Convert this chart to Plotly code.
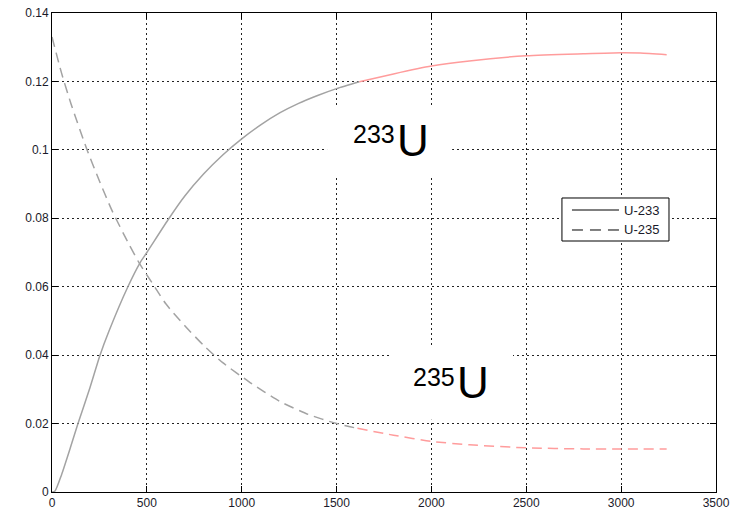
import plotly.graph_objects as go

# U-233 concentration (gray part then red part)
u233_x = [0, 16, 50, 100, 137, 200, 253, 300, 400, 464, 500, 611, 700, 800, 900, 1000,
          1100, 1200, 1300, 1400, 1500, 1620]
u233_y = [0.0, 0.0003, 0.005, 0.0135, 0.020, 0.0305, 0.040, 0.047, 0.060, 0.067, 0.070, 0.0795,
          0.0865, 0.0930, 0.0985, 0.1032, 0.1073, 0.1108, 0.1136, 0.1159, 0.1179, 0.1199]
u233_x_late = [1620, 1800, 2000, 2200, 2500, 2800, 3000, 3100, 3240]
u233_y_late = [0.1199, 0.1222, 0.1245, 0.1260, 0.1275, 0.1281, 0.1284, 0.1283, 0.1278]

# U-235 concentration
u235_x = [0, 50, 100, 186, 250, 316, 400, 464, 527, 600, 700, 800, 900, 1044, 1200, 1350,
          1500, 1610]
u235_y = [0.133, 0.1225, 0.1135, 0.0998, 0.0909, 0.0823, 0.0730, 0.0665, 0.0612, 0.0550,
          0.0486, 0.0428, 0.0378, 0.0320, 0.0265, 0.0227, 0.0200, 0.0186]
u235_x_late = [1610, 1800, 2000, 2200, 2500, 2800, 3000, 3240]
u235_y_late = [0.0186, 0.0166, 0.0148, 0.0138, 0.0129, 0.0126, 0.0126, 0.0126]

x_ticks = [0, 500, 1000, 1500, 2000, 2500, 3000, 3500]
y_ticks = [0, 0.02, 0.04, 0.06, 0.08, 0.1, 0.12, 0.14]
y_tick_text = ["0", "0.02", "0.04", "0.06", "0.08", "0.1", "0.12", "0.14"]
legend_names = ["U-233", "U-235"]

gray = "#a3a3a3"
pink = "#ff9c9c"
dash = "10px,6px"
font_txt = "Liberation Sans, Arial, sans-serif"

fig = go.Figure()
line_kw = dict(width=1.5, shape="spline", smoothing=0.6)
fig.add_trace(go.Scatter(x=u233_x, y=u233_y, mode="lines", line=dict(color=gray, **line_kw),
                         name=legend_names[0], showlegend=False, hoverinfo="skip"))
fig.add_trace(go.Scatter(x=u233_x_late, y=u233_y_late, mode="lines", line=dict(color=pink, **line_kw),
                         showlegend=False, hoverinfo="skip"))
fig.add_trace(go.Scatter(x=u235_x, y=u235_y, mode="lines", line=dict(color=gray, dash=dash, **line_kw),
                         name=legend_names[1], showlegend=False, hoverinfo="skip"))
fig.add_trace(go.Scatter(x=u235_x_late, y=u235_y_late, mode="lines", line=dict(color=pink, dash=dash, **line_kw),
                         showlegend=False, hoverinfo="skip"))

# white boxes behind labels (cover gridlines)
fig.add_shape(type="rect", x0=1450, x1=2109, y0=0.0924, y1=0.1126, layer="between",
              fillcolor="white", line=dict(width=0))
fig.add_shape(type="rect", x0=1782, x1=2430, y0=0.0211, y1=0.0424, layer="between",
              fillcolor="white", line=dict(width=0))

fig.add_annotation(x=1819, y=0.1047, text="233", showarrow=False, xanchor="right", yanchor="middle",
                   font=dict(family=font_txt, size=25, color="black"))
fig.add_annotation(x=1807, y=0.1028, text="U", showarrow=False, xanchor="left", yanchor="middle",
                   font=dict(family=font_txt, size=44, color="black"))
fig.add_annotation(x=2135, y=0.0336, text="235", showarrow=False, xanchor="right", yanchor="middle",
                   font=dict(family=font_txt, size=25, color="black"))
fig.add_annotation(x=2123, y=0.0320, text="U", showarrow=False, xanchor="left", yanchor="middle",
                   font=dict(family=font_txt, size=44, color="black"))

# legend box (drawn manually, MATLAB style)
fig.add_shape(type="rect", xref="paper", yref="paper", x0=0.768, x1=0.9292, y0=0.524, y1=0.6138,
              layer="above", fillcolor="white", line=dict(color="black", width=1))
fig.add_shape(type="line", xref="paper", yref="paper", x0=0.7831, x1=0.8539, y0=0.5887, y1=0.5887,
              layer="above", line=dict(color="black", width=1))
fig.add_shape(type="line", xref="paper", yref="paper", x0=0.7831, x1=0.8539, y0=0.547, y1=0.547,
              layer="above", line=dict(color="black", width=1, dash="11px,7px"))
fig.add_annotation(xref="paper", yref="paper", x=0.8584, y=0.5887, text=legend_names[0],
                   showarrow=False, xanchor="left", yanchor="middle",
                   font=dict(family=font_txt, size=13, color="#1a1a2a"))
fig.add_annotation(xref="paper", yref="paper", x=0.8584, y=0.547, text=legend_names[1],
                   showarrow=False, xanchor="left", yanchor="middle",
                   font=dict(family=font_txt, size=13, color="#1a1a2a"))

axis_common = dict(showline=True, linecolor="black", linewidth=1, mirror="ticks",
                   ticks="inside", ticklen=6, tickcolor="black", tickwidth=1,
                   showgrid=True, gridcolor="#222222", gridwidth=1, griddash="2px,3px",
                   zeroline=False, automargin=False,
                   tickfont=dict(family=font_txt, size=12, color="#1a1a2a"))

fig.update_xaxes(range=[0, 3500], tickvals=x_ticks, ticktext=[str(v) for v in x_ticks], **axis_common)
fig.update_yaxes(range=[0, 0.14], tickvals=y_ticks, ticktext=y_tick_text, **axis_common)

fig.update_layout(
    width=743, height=515,
    margin=dict(l=52, r=27, t=13, b=23),
    plot_bgcolor="white", paper_bgcolor="white",
    showlegend=False,
)

# remove the default 8px page margin so the figure fills the window exactly
fig.write_html("out.html", config={"displayModeBar": False},
               post_script="document.body.style.margin='0';document.body.style.overflow='hidden';")
